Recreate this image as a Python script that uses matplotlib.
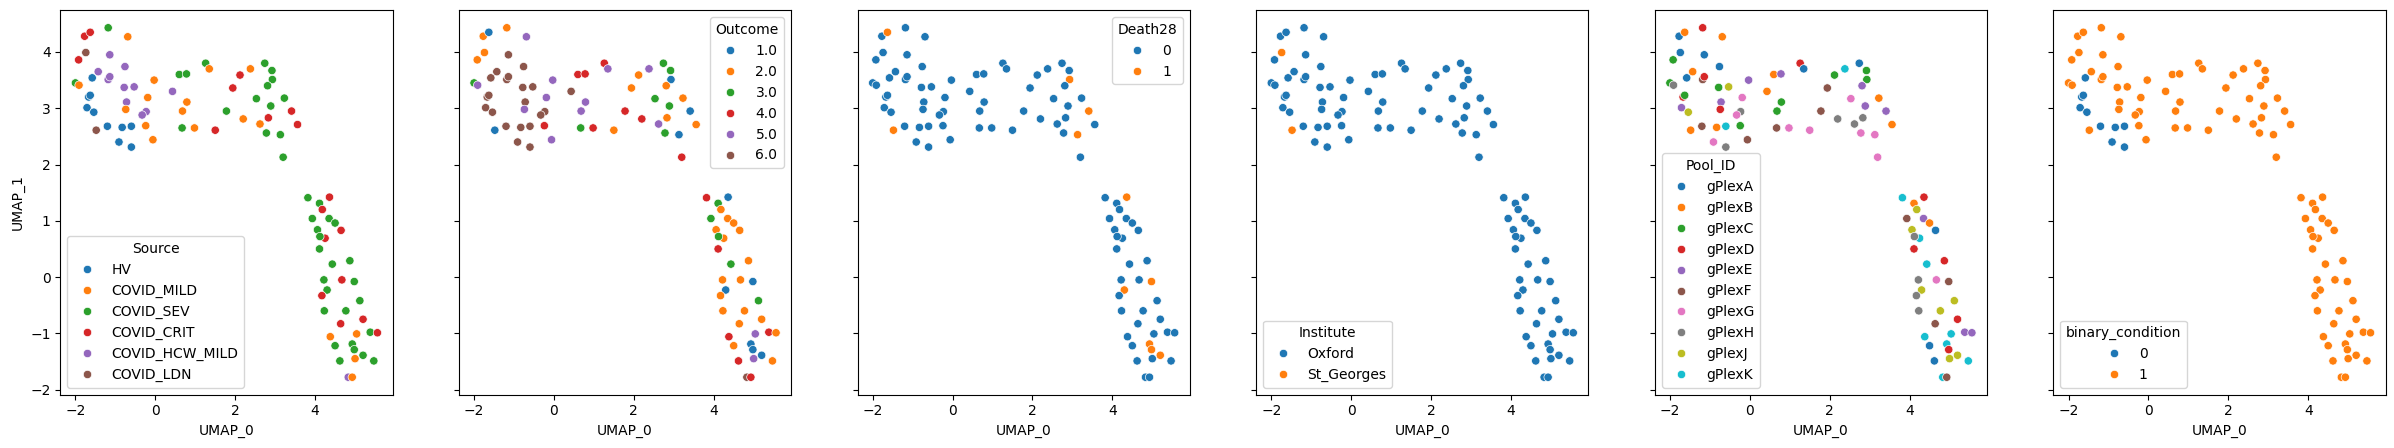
import matplotlib
matplotlib.use("Agg")
import matplotlib.pyplot as plt
import seaborn as sns
import pandas as pd

# UMAP coordinates
umap_0 = [-1.18, -1.77, -1.63, -0.69, -1.74, -1.92, -1.14, -0.76, -1.43, -1.58,
          -1.18, -1.14, -2.00, -1.91, -0.78, -0.53, -0.03, -1.67, -1.63, -0.72,
          -0.19, -1.71, -1.54, -0.74, -0.23, -0.33, -1.48, -1.20, -0.83, -0.60,
          -0.24, -0.91, -0.60, -0.06, 0.43, 0.60, 0.78, 1.26, 1.35, 0.79,
          0.68, 0.67, 0.98, 1.50, 1.78, 1.94, 2.12, 2.38, 2.20, 2.74,
          2.92, 2.93, 2.81, 2.53, 3.23, 2.89, 3.41, 2.83, 2.62, 3.56,
          2.78, 3.13, 3.20, 3.82, 4.36, 4.11, 4.18, 3.93, 4.35, 4.50,
          4.65, 4.06, 4.25, 4.12, 4.11, 4.43, 4.87, 4.22, 4.67, 4.98,
          4.30, 4.17, 5.12, 4.23, 4.77, 5.20, 4.64, 5.38, 5.56, 5.04,
          4.38, 4.93, 4.98, 4.50, 5.20, 5.00, 4.62, 5.47, 4.83, 4.93]
umap_1 = [4.43, 4.28, 4.35, 4.27, 3.99, 3.86, 3.95, 3.74, 3.65, 3.54,
          3.51, 3.56, 3.45, 3.41, 3.37, 3.38, 3.50, 3.20, 3.23, 3.11,
          3.19, 3.01, 2.93, 2.98, 2.94, 2.88, 2.61, 2.68, 2.66, 2.68,
          2.69, 2.40, 2.31, 2.44, 3.30, 3.60, 3.61, 3.80, 3.70, 3.11,
          2.95, 2.65, 2.65, 2.61, 2.95, 3.36, 3.59, 3.70, 2.81, 3.80,
          3.67, 3.51, 3.40, 3.17, 3.18, 3.04, 2.95, 2.83, 2.72, 2.71,
          2.56, 2.53, 2.13, 1.41, 1.42, 1.31, 1.20, 1.04, 1.04, 0.96,
          0.83, 0.84, 0.69, 0.72, 0.50, 0.23, 0.29, -0.05, -0.05, -0.08,
          -0.23, -0.33, -0.42, -0.60, -0.60, -0.75, -0.83, -0.98, -0.99, -1.01,
          -1.06, -1.19, -1.29, -1.22, -1.39, -1.45, -1.49, -1.49, -1.78, -1.78]

source = ["SEV", "CRIT", "CRIT", "MILD", "LDN", "CRIT", "HCW", "HCW", "HCW", "HV",
          "HCW", "HCW", "SEV", "MILD", "HCW", "HCW", "MILD", "HV", "HV", "HCW",
          "MILD", "HV", "HV", "MILD", "HCW", "HCW", "LDN", "HV", "HV", "HV",
          "MILD", "HV", "HV", "MILD", "HCW", "SEV", "SEV", "SEV", "MILD", "MILD",
          "MILD", "SEV", "MILD", "CRIT", "SEV", "CRIT", "CRIT", "MILD", "MILD", "SEV",
          "SEV", "SEV", "SEV", "SEV", "SEV", "SEV", "CRIT", "CRIT", "MILD", "CRIT",
          "SEV", "SEV", "SEV", "SEV", "CRIT", "SEV", "CRIT", "SEV", "SEV", "SEV",
          "CRIT", "SEV", "CRIT", "SEV", "SEV", "SEV", "SEV", "SEV", "CRIT", "SEV",
          "SEV", "CRIT", "SEV", "SEV", "SEV", "CRIT", "CRIT", "SEV", "CRIT", "MILD",
          "MILD", "SEV", "SEV", "SEV", "SEV", "MILD", "SEV", "SEV", "HCW", "MILD"]
outcome = [2, 2, 1, 5, 2, 2, 6, 6, 6, 6,
           6, 6, 3, 5, 6, 6, 5, 6, 6, 6,
           5, 6, 6, 5, 6, 6, 1, 6, 6, 6,
           4, 6, 6, 5, 6, 4, 4, 4, 5, 5,
           5, 3, 4, 2, 4, 2, 2, 5, 4, 3,
           3, 1, 2, 3, 2, 3, 1, 2, 5, 2,
           3, 1, 4, 4, 1, 3, 2, 3, 2, 2,
           2, 2, 2, 3, 4, 3, 2, 2, 2, 1,
           1, 2, 3, 2, 2, 2, 2, 4, 2, 5,
           4, 1, 1, 2, 1, 5, 4, 2, 6, 4]
death28 = [0, 0, 1, 0, 0, 0, 0, 0, 0, 0,
           0, 0, 0, 0, 0, 0, 0, 0, 0, 0,
           0, 0, 0, 0, 0, 0, 1, 0, 0, 0,
           0, 0, 0, 0, 0, 0, 0, 0, 0, 0,
           0, 0, 0, 0, 0, 0, 0, 0, 0, 0,
           0, 1, 0, 0, 0, 0, 1, 0, 0, 0,
           0, 1, 0, 0, 1, 0, 0, 0, 0, 0,
           0, 0, 0, 0, 0, 0, 0, 0, 0, 1,
           1, 0, 0, 0, 0, 0, 0, 0, 0, 0,
           0, 1, 1, 0, 1, 0, 0, 0, 0, 0]
pool = ["D", "A", "B", "B", "A", "C", "A", "A", "B", "A",
        "F", "D", "C", "H", "C", "J", "E", "D", "C", "E",
        "G", "E", "J", "D", "H", "G", "B", "F", "B", "K",
        "C", "G", "H", "F", "B", "B", "E", "D", "A", "C",
        "C", "F", "G", "G", "F", "F", "C", "K", "H", "A",
        "C", "C", "E", "G", "B", "E", "E", "H", "H", "B",
        "G", "G", "G", "K", "D", "B", "J", "F", "E", "B",
        "A", "J", "K", "H", "D", "K", "D", "H", "G", "F",
        "J", "H", "J", "H", "J", "D", "F", "E", "E", "K",
        "K", "K", "D", "A", "J", "J", "A", "K", "K", "F"]

source_names = {"HV": "HV", "MILD": "COVID_MILD", "SEV": "COVID_SEV",
                "CRIT": "COVID_CRIT", "HCW": "COVID_HCW_MILD", "LDN": "COVID_LDN"}
source_order = ["HV", "COVID_MILD", "COVID_SEV", "COVID_CRIT", "COVID_HCW_MILD", "COVID_LDN"]
outcome_order = ["1.0", "2.0", "3.0", "4.0", "5.0", "6.0"]
pool_order = ["gPlexA", "gPlexB", "gPlexC", "gPlexD", "gPlexE",
              "gPlexF", "gPlexG", "gPlexH", "gPlexJ", "gPlexK"]

df = pd.DataFrame({"UMAP_0": umap_0, "UMAP_1": umap_1})
df["Source"] = [source_names[s] for s in source]
df["Outcome"] = ["%.1f" % o for o in outcome]
df["Death28"] = [str(d) for d in death28]
df["Institute"] = ["St_Georges" if s == "LDN" else "Oxford" for s in source]
df["Pool_ID"] = ["gPlex" + p for p in pool]
df["binary_condition"] = ["0" if s == "HV" else "1" for s in source]

panels = [("Source", source_order, "lower left"),
          ("Outcome", outcome_order, "upper right"),
          ("Death28", ["0", "1"], "upper right"),
          ("Institute", ["Oxford", "St_Georges"], "lower left"),
          ("Pool_ID", pool_order, "lower left"),
          ("binary_condition", ["0", "1"], "lower left")]

tab10 = sns.color_palette("tab10")

fig, axes = plt.subplots(1, 6, figsize=(23.94, 4.48), dpi=100, sharey=True)
for ax, (col, order, loc) in zip(axes, panels):
    sns.scatterplot(data=df, x="UMAP_0", y="UMAP_1", hue=col, hue_order=order,
                    palette=tab10[:len(order)], ax=ax)
    sns.move_legend(ax, loc, title=col)

fig.subplots_adjust(left=0.0252, right=0.9965, top=0.977, bottom=0.119, wspace=0.2)
fig.savefig("out.png", dpi=100)
